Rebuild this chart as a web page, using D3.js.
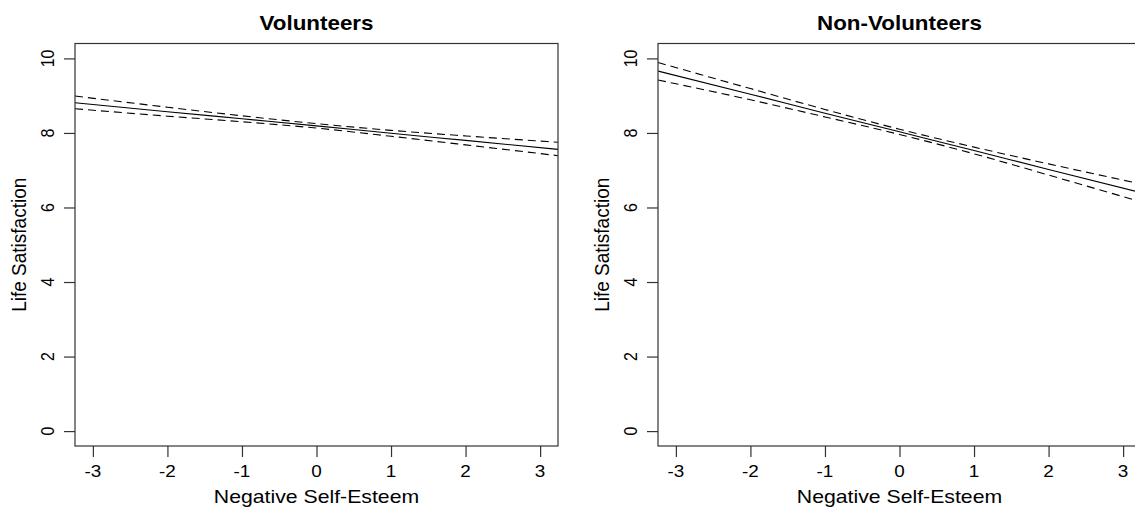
<!DOCTYPE html>
<html>
<head>
<meta charset="utf-8">
<script src="https://cdn.jsdelivr.net/npm/d3@7"></script>
<style>
  body { margin: 0; background: #fff; }
  svg { display: block; }
  text { font-family: "Liberation Sans", Arial, sans-serif; fill: #000; }
</style>
</head>
<body>
<svg id="chart"></svg>
<script>
// values
const xGrid = [-3.24, -2, -1, 0, 1, 2, 3.24];
const volFit   = [8.81, 8.57, 8.38, 8.19, 7.99, 7.80, 7.56];
const volUpper = [8.99, 8.69, 8.46, 8.25, 8.07, 7.92, 7.75];
const volLower = [8.65, 8.45, 8.30, 8.13, 7.91, 7.68, 7.39];
const nonFit   = [9.66, 9.04, 8.53, 8.03, 7.53, 7.02, 6.40];
const nonUpper = [9.89, 9.19, 8.63, 8.10, 7.62, 7.17, 6.63];
const nonLower = [9.42, 8.89, 8.43, 7.96, 7.44, 6.87, 6.15];
const panelTitles = ['Volunteers', 'Non-Volunteers'];
const xTicks = [-3, -2, -1, 0, 1, 2, 3];
const yTicks = [0, 2, 4, 6, 8, 10];
const xTitle = 'Negative Self-Esteem';
const yTitle = 'Life Satisfaction';

const width = 1135, height = 507;
const sx = 1.18; // the picture is a little wider than tall

const svg = d3.select('#chart')
    .attr('width', width)
    .attr('height', height);

const panels = [
  {title: panelTitles[0], left: 75, fit: volFit, upper: volUpper, lower: volLower},
  {title: panelTitles[1], left: 658, fit: nonFit, upper: nonUpper, lower: nonLower}
];
const panelW = 483, plotTop = 43.5, plotBottom = 446;

const y = d3.scaleLinear().domain([-0.4, 10.4]).range([plotBottom, plotTop]);

panels.forEach(p => {
  const x = d3.scaleLinear().domain([-3.24, 3.24]).range([p.left, p.left + panelW]);
  const g = svg.append('g');

  const line = d3.line()
      .x((d, i) => x(xGrid[i]))
      .y(d => y(d))
      .curve(d3.curveMonotoneX);

  g.append('path').datum(p.fit)
      .attr('d', line).attr('fill', 'none')
      .attr('stroke', '#000').attr('stroke-width', 1.1);
  [p.upper, p.lower].forEach(s => {
    g.append('path').datum(s)
        .attr('d', line).attr('fill', 'none')
        .attr('stroke', '#000').attr('stroke-width', 1.1)
        .attr('stroke-dasharray', '8,5');
  });

  // box
  g.append('rect')
      .attr('x', p.left).attr('y', plotTop)
      .attr('width', panelW).attr('height', plotBottom - plotTop)
      .attr('fill', 'none').attr('stroke', '#333').attr('stroke-width', 1.2);

  // x axis
  const xAxis = d3.axisBottom(x).tickValues(xTicks).tickSize(11).tickSizeOuter(0).tickFormat('');
  const xg = g.append('g').attr('transform', `translate(0,${plotBottom})`).call(xAxis);
  xg.select('.domain').remove();
  xg.selectAll('line').attr('stroke', '#333').attr('stroke-width', 1.2);

  g.selectAll('.xlab').data(xTicks).join('text')
      .attr('transform', d => `translate(${x(d)},477) scale(${sx},1)`)
      .attr('text-anchor', 'middle')
      .style('font-size', '16px')
      .text(d => d);

  // y axis
  const yAxis = d3.axisLeft(y).tickValues(yTicks).tickSize(11).tickSizeOuter(0).tickFormat('');
  const yg = g.append('g').attr('transform', `translate(${p.left},0)`).call(yAxis);
  yg.select('.domain').remove();
  yg.selectAll('line').attr('stroke', '#333').attr('stroke-width', 1.2);

  g.selectAll('.ylab').data(yTicks).join('text')
      .attr('transform', d => `translate(${p.left - 21},${y(d)}) scale(${sx},1) rotate(-90)`)
      .attr('text-anchor', 'middle')
      .style('font-size', '16px')
      .text(d => d);

  // titles
  g.append('text')
      .attr('transform', `translate(${p.left + panelW / 2},30) scale(1.12,1)`)
      .attr('text-anchor', 'middle')
      .style('font-size', '20px').style('font-weight', 'bold')
      .text(p.title);

  g.append('text')
      .attr('transform', `translate(${p.left + panelW / 2},503) scale(${sx},1)`)
      .attr('text-anchor', 'middle')
      .style('font-size', '18px')
      .text(xTitle);

  g.append('text')
      .attr('transform', `translate(${p.left - 49},${(plotTop + plotBottom) / 2}) scale(1.05,1) rotate(-90)`)
      .attr('text-anchor', 'middle')
      .style('font-size', '19px')
      .text(yTitle);
});
</script>
</body>
</html>
